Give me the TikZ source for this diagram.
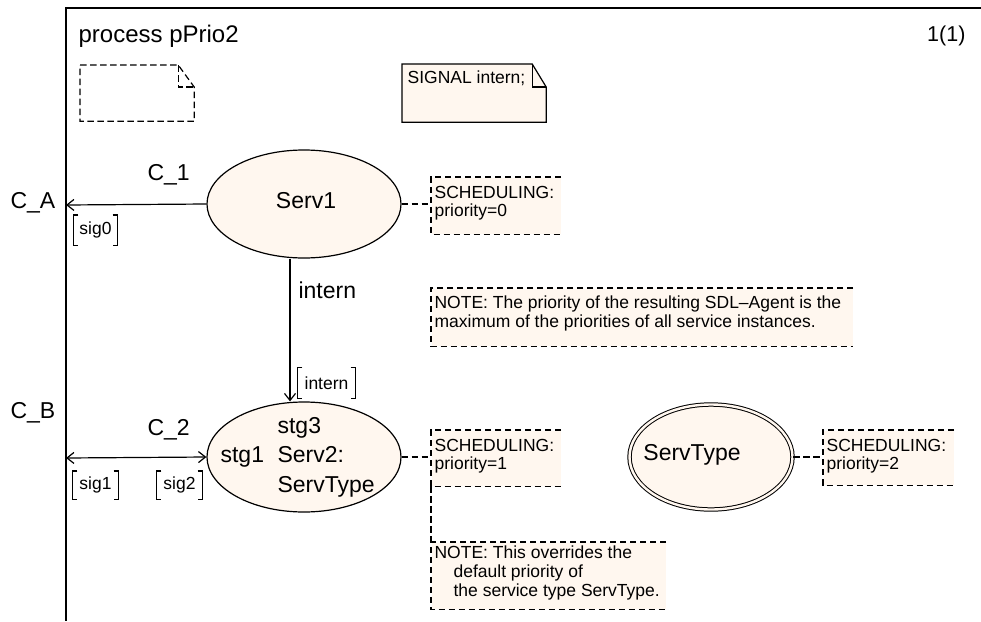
\documentclass[tikz,border=0pt]{standalone}
\usepackage{fontspec}
\setmainfont{Liberation Sans}
\usetikzlibrary{arrows.meta,shapes.geometric}
\definecolor{cream}{HTML}{FFF7EF}
\newcommand\sigbrackets[1]{\draw ([xshift=5pt]#1.north west) -- (#1.north west) -- (#1.south west) -- ([xshift=5pt]#1.south west) ([xshift=-5pt]#1.north east) -- (#1.north east) -- (#1.south east) -- ([xshift=-5pt]#1.south east);}
\begin{document}
\begin{tikzpicture}[x=1pt,y=-1pt,line width=1.2pt,
  big/.style={font=\fontsize{23}{28}\selectfont,inner sep=0pt},
  title/.style={font=\fontsize{24}{28}\selectfont,inner sep=0pt},
  small/.style={font=\fontsize{17.5}{20}\selectfont,inner sep=0pt},
  dsh/.style={dash pattern=on 6.5pt off 3.5pt},
  cbox/.style={anchor=north west,fill=cream,inner sep=0pt},
  svc/.style={ellipse,draw,fill=cream,inner sep=0pt},
  arr/.style={-{Straight Barb[length=7pt,width=11pt]}},
  darr/.style={{Straight Barb[length=7pt,width=11pt]}-{Straight Barb[length=7pt,width=11pt]}},
  frame/.style={line width=1.6pt}]
\useasboundingbox (0,0) rectangle (981,621);
% frame
\coordinate (ftr) at (981,8);
\coordinate (ftl) at (66,8);
\coordinate (fbl) at (66,621);
\draw[frame] (ftr) -- (ftl) -- (fbl);
\node[title,anchor=base west] (ttl) at (78,42) {process pPrio2};
\node[font=\fontsize{21.5}{26}\selectfont,inner sep=0pt,anchor=base east] (pg) at (966,41) {1(1)};
% empty text symbol
\node[anchor=north west,minimum width=113pt,minimum height=55pt,inner sep=0pt] (txt) at (80,65) {};
\draw[dsh] (txt.north west) -- ([xshift=-16pt]txt.north east) -- ([yshift=-22pt]txt.north east) -- (txt.south east) -- (txt.south west) -- cycle;
\draw[dsh] ([xshift=-16pt]txt.north east) |- ([yshift=-22pt]txt.north east);
% signal declaration
\node[anchor=north west,minimum width=143pt,minimum height=57pt,inner sep=0pt] (sigdecl) at (402,64) {};
\draw[fill=cream] (sigdecl.north west) -- ([xshift=-14pt]sigdecl.north east) -- ([yshift=-23pt]sigdecl.north east) -- (sigdecl.south east) -- (sigdecl.south west) -- cycle;
\draw ([xshift=-14pt]sigdecl.north east) |- ([yshift=-23pt]sigdecl.north east);
\node[small,anchor=base west] (sigtxt) at (407,83) {SIGNAL intern;};
% services
\node[svc,minimum width=194pt,minimum height=108pt] (serv1) at (304,204) {};
\node[big,anchor=base] (serv1lbl) at (306,208) {Serv1};
\node[svc,minimum width=194pt,minimum height=110pt] (serv2) at (304,457) {};
\node[big,anchor=base west] (stg3) at (277,433) {stg3};
\node[big,anchor=base west] (serv2lbl) at (277,462) {Serv2:};
\node[big,anchor=base west] (serv2typ) at (277,492) {ServType};
\node[big,anchor=base west] (stg1) at (220,462) {stg1};
\node[ellipse,draw,fill=cream,double=cream,double distance=2.4pt,line width=1pt,inner sep=0pt,minimum width=163pt,minimum height=105pt] (servtype) at (711,457) {};
\node[big,anchor=base] (servtypelbl) at (692,460) {ServType};
% channels
\coordinate (ca) at (66,205);
\coordinate (cb) at (66,458);
\draw[arr] (serv1.west) -- (ca);
\draw[darr] (cb) -- (serv2.west);
\draw[arr] ([xshift=-14pt]serv1.south) -- ([xshift=-14pt]serv2.north);
\node[big,anchor=base west] (c1lbl) at (147,180) {C\_1};
\node[big,anchor=base west] (calbl) at (10,208) {C\_A};
\node[big,anchor=base west] (c2lbl) at (147,435) {C\_2};
\node[big,anchor=base west] (cblbl) at (10,418) {C\_B};
\node[big,anchor=base west] (internlbl) at (298,298) {intern};
% signal lists
\node[small,minimum width=43pt,minimum height=29pt] (sl0) at (95.5,230) {sig0};
\sigbrackets{sl0}
\node[small,minimum width=45pt,minimum height=27pt] (sl1) at (95.5,485) {sig1};
\sigbrackets{sl1}
\node[small,minimum width=45pt,minimum height=27pt] (sl2) at (179.5,485) {sig2};
\sigbrackets{sl2}
\node[small,minimum width=57pt,minimum height=30pt] (sli) at (326.5,383) {intern};
\sigbrackets{sli}
% comments
\node[cbox,minimum width=129pt,minimum height=56pt] (cm1) at (431,177) {};
\draw[dsh] (cm1.north east) -- (cm1.north west) -- (cm1.south west) -- (cm1.south east);
\node[small,anchor=base west] (cm1a) at (434,198) {SCHEDULING:};
\node[small,anchor=base west] (cm1b) at (434,216) {priority=0};
\draw[dsh] (serv1.east) -- (serv1.east -| cm1.west);
\node[cbox,minimum width=421pt,minimum height=57pt] (nt1) at (431,288) {};
\draw[dsh] (nt1.north east) -- (nt1.north west) -- (nt1.south west) -- (nt1.south east);
\node[small,anchor=base west] (nt1a) at (434,308) {NOTE: The priority of the resulting SDL{\textendash}Agent is the};
\node[small,anchor=base west] (nt1b) at (434,327.5) {maximum of the priorities of all service instances.};
\node[cbox,minimum width=129pt,minimum height=55pt] (cm2) at (431,430) {};
\draw[dsh] (cm2.north east) -- (cm2.north west) -- (cm2.south west) -- (cm2.south east);
\node[small,anchor=base west] (cm2a) at (434,451) {SCHEDULING:};
\node[small,anchor=base west] (cm2b) at (434,469) {priority=1};
\draw[dsh] (serv2.east) -- (serv2.east -| cm2.west);
\node[cbox,minimum width=234pt,minimum height=66pt] (nt2) at (431,542) {};
\draw[dsh] (nt2.north east) -- (nt2.north west) -- (nt2.south west) -- (nt2.south east);
\node[small,anchor=base west] (nt2a) at (434,558) {NOTE: This overrides the};
\node[small,anchor=base west] (nt2b) at (453,577) {default priority of};
\node[small,anchor=base west] (nt2c) at (453,596) {the service type ServType.};
\draw[dsh] (cm2.south west) -- (nt2.north west);
\node[cbox,minimum width=130pt,minimum height=54pt] (cm3) at (823,430) {};
\draw[dsh] (cm3.north east) -- (cm3.north west) -- (cm3.south west) -- (cm3.south east);
\node[small,anchor=base west] (cm3a) at (826,451) {SCHEDULING:};
\node[small,anchor=base west] (cm3b) at (826,469) {priority=2};
\draw[dsh] (servtype.east) -- (servtype.east -| cm3.west);
\end{tikzpicture}
\end{document}
